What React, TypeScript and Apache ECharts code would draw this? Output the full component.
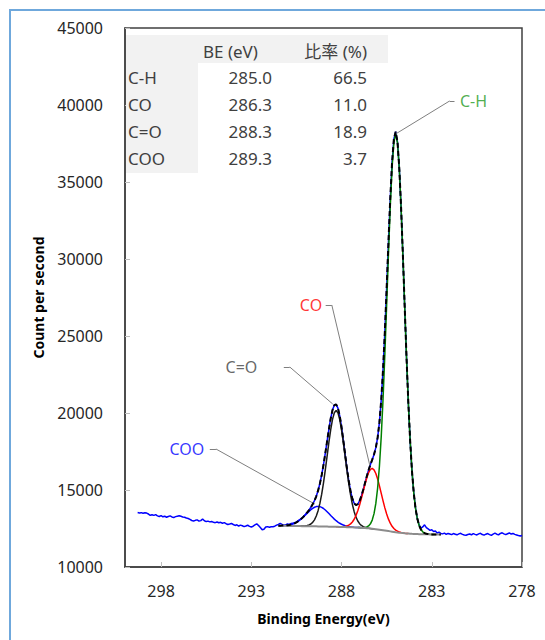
import React, { useEffect, useRef } from "react";
import * as echarts from "echarts";

// ---------- axes ----------
const xTicks = [298, 293, 288, 283, 278];
const xMin = 278;
const xMax = 300;
const yMin = 10000;
const yMax = 45000;
const yStep = 5000;

// ---------- raw spectrum (0.1 eV steps from 299.3 down to 278.0) ----------
const rawStartEV = 299.3;
const rawCounts = [
  13540, 13510, 13530, 13490, 13520, 13500, 13440, 13360, 13390, 13350,
  13400, 13320, 13280, 13340, 13260, 13300, 13230, 13280, 13320, 13250,
  13210, 13270, 13300, 13330, 13290, 13250, 13230, 13180, 13150, 13090,
  13020, 12990, 13030, 13060, 12980, 13010, 13120, 13000, 12950, 12980,
  12930, 12960, 12900, 12880, 12920, 12870, 12900, 12840, 12880, 12810,
  12760, 12790, 12830, 12760, 12700, 12740, 12660, 12720, 12680, 12620,
  12660, 12710, 12640, 12600, 12650, 12730, 12800, 12690, 12560, 12420,
  12450, 12600, 12620, 12580, 12610, 12620, 12650, 12720,
  12760, 12830, 12770, 12700, 12740, 12800, 12760, 12820, 12850, 12880,
  12930, 13010, 13090, 13180, 13300, 13420, 13560, 13700, 13880, 14080,
  14310, 14600, 14970, 15420, 15980, 16640, 17390, 18180, 18960, 19660,
  20200, 20520, 20560, 20320, 19810, 19090, 18220, 17300, 16400, 15590,
  14930, 14440, 14140, 14020, 14080, 14290, 14610, 15020, 15460, 15900,
  16300, 16650, 16970, 17310, 17750, 18400, 19410, 20860, 22820, 25290,
  28130, 31120, 33940, 36270, 37790, 38260, 37610, 35900, 33340, 30220,
  26890, 23630, 20700, 18240, 16290, 14840, 13820, 13140, 12720, 12520,
  12600, 12740, 12560, 12470, 12380, 12420, 12300, 12340, 12210, 12260,
  12180,
  12150, 12200, 12120, 12180, 12140, 12100, 12170, 12130, 12090, 12150,
  12190, 12120, 12080, 12060, 12110, 12140, 12090, 12170, 12120, 12080,
  12150, 12190, 12110, 12070, 12130, 12170, 12100, 12060, 12140, 12200,
  12130, 12090, 12180, 12220, 12150, 12100, 12160, 12210, 12140, 12180,
  12120, 12080, 12040, 12010, 12050,
];

// ---------- fit (0.1 eV steps from 291.5 down to 282.5) ----------
const fitStartEV = 291.5;
const fitStepEV = 0.1;
const baselineCounts = [
  12680, 12678, 12676, 12674, 12672, 12670, 12668, 12666, 12664, 12662,
  12660, 12658, 12656, 12654, 12652, 12650, 12648, 12646, 12644, 12642,
  12640, 12638, 12636, 12634, 12632, 12630, 12627, 12624, 12621, 12618,
  12615, 12612, 12609, 12606, 12603, 12600, 12596, 12592, 12588, 12584,
  12580, 12575, 12570, 12565, 12560, 12555, 12547, 12538, 12529, 12520,
  12510, 12497, 12484, 12470, 12455, 12440, 12422, 12404, 12386, 12368,
  12350, 12332, 12314, 12296, 12278, 12260, 12245, 12230, 12216, 12203,
  12190, 12180, 12171, 12162, 12153, 12145, 12141, 12137, 12133, 12129,
  12125, 12123, 12121, 12119, 12117, 12115, 12114, 12113, 12112, 12111,
  12110,
];

// peak heights above the baseline
const cooStartEV = 291.5;
const cooNet = [
  4, 7, 11, 18, 28, 43, 63, 91, 128, 176, 237, 311, 398, 498, 610, 728, 849,
  967, 1076, 1169, 1240, 1285, 1300, 1285, 1240, 1169, 1076, 967, 849, 728,
  610, 498, 398, 311, 237, 176, 128, 91, 63, 43, 28, 18, 11, 7, 4, 2, 1,
];
const carbonylStartEV = 290.4;
const carbonylNet = [
  1, 3, 6, 11, 24, 45, 84, 149, 257, 424, 671, 1022, 1494, 2099, 2834, 3675,
  4579, 5482, 6307, 6970, 7401, 7550, 7401, 6970, 6307, 5482, 4579, 3675,
  2834, 2099, 1494, 1022, 671, 424, 257, 149, 84, 45, 24, 11, 6, 3, 1,
];
const coStartEV = 288.3;
const coNet = [
  1, 3, 6, 12, 23, 44, 78, 133, 220, 348, 530, 776, 1090, 1471, 1908, 2377,
  2846, 3274, 3619, 3842, 3920, 3842, 3619, 3274, 2846, 2377, 1908, 1471,
  1090, 776, 530, 348, 220, 133, 78, 44, 23, 12, 6, 3, 1,
];
const chStartEV = 287.1;
const chNet = [
  1, 3, 7, 17, 37, 79, 159, 305, 564, 993, 1671, 2690, 4137, 6077, 8530,
  11450, 14690, 18010, 21100, 23630, 25290, 25870, 25290, 23630, 21100, 18010,
  14690, 11450, 8530, 6077, 4137, 2690, 1671, 993, 564, 305, 159, 79, 37, 17,
  7, 3, 1,
];

// ---------- table ----------
const tableHeaders = ["BE (eV)", "比率 (%)"];
const tableNames = ["C-H", "CO", "C=O", "COO"];
const tableBE = ["285.0", "286.3", "288.3", "289.3"];
const tableRatio = ["66.5", "11.0", "18.9", "3.7"];

// ---------- annotation labels ----------
const annotNames = ["C-H", "CO", "C=O", "COO"];
const annotPeaks = [
  [285.0, 38120],
  [286.44, 16624],
  [288.49, 20585],
  [289.49, 14091],
];

const FONT = "'Noto Sans', 'Noto Sans CJK JP', sans-serif";

const ev = (start: number, j: number) =>
  Math.round((start - j * fitStepEV) * 10) / 10;
const fitIndex = (e: number) => Math.round((fitStartEV - e) / fitStepEV);

function component(start: number, net: number[]) {
  return net.map((v, j) => {
    const e = ev(start, j);
    return [e, baselineCounts[fitIndex(e)] + v];
  });
}

export default function App() {
  const ref = useRef<HTMLDivElement>(null);

  useEffect(() => {
    if (!ref.current) return;
    const chart = echarts.init(ref.current, undefined, { renderer: "svg" });

    const comps: [number, number[]][] = [
      [cooStartEV, cooNet],
      [carbonylStartEV, carbonylNet],
      [coStartEV, coNet],
      [chStartEV, chNet],
    ];
    const envelope = baselineCounts.map((b, i) => {
      const e = ev(fitStartEV, i);
      let s = b;
      for (const [st, net] of comps) {
        const j = Math.round((st - e) / fitStepEV);
        if (j >= 0 && j < net.length) s += net[j];
      }
      return [e, s];
    });
    const raw = rawCounts.map((c, i) => [ev(rawStartEV, i), c]);
    const base = baselineCounts.map((b, i) => [ev(fitStartEV, i), b]);

    // label layout (positions only)
    const annotStyle = [
      { color: "#1f9a1f", end: [281.74, 40262], elbow: [282.01, 40262], pos: "right", dist: 5 },
      { color: "#ff0000", end: [288.88, 27014], elbow: [288.54, 27014], pos: "left", dist: 3 },
      { color: "#404040", end: [291.2, 22988], elbow: [290.87, 22988], pos: "left", dist: 26 },
      { color: "#0000ff", end: [295.3, 17663], elbow: [294.96, 17663], pos: "left", dist: 5 },
    ];

    const lineCommon = (color: string, width = 1.5) => ({
      type: "line" as const,
      showSymbol: false,
      symbol: "none",
      silent: true,
      lineStyle: { color, width },
    });

    const tableGraphics: any[] = [
      { type: "rect", shape: { x: 126, y: 35, width: 262, height: 28 }, style: { fill: "#f2f2f2" }, z: 1 },
      { type: "rect", shape: { x: 126, y: 63, width: 72, height: 110 }, style: { fill: "#f2f2f2" }, z: 1 },
    ];
    const tText = (text: string, x: number, y: number, align: string) => ({
      type: "text",
      z: 2,
      style: {
        text,
        x,
        y,
        align,
        textAlign: align,
        verticalAlign: "middle",
        textVerticalAlign: "middle",
        fill: "#404040",
        font: `17px ${FONT}`,
      },
    });
    tableGraphics.push(tText(tableHeaders[0], 203, 51, "left"));
    tableGraphics.push(tText(tableHeaders[1], 367, 51, "right"));
    const rowY = [77, 104, 131, 158];
    tableNames.forEach((n, i) => {
      tableGraphics.push(tText(n, 128, rowY[i], "left"));
      tableGraphics.push(tText(tableBE[i], 272, rowY[i], "right"));
      tableGraphics.push(tText(tableRatio[i], 367, rowY[i], "right"));
    });

    chart.setOption({
      animation: false,
      backgroundColor: "#ffffff",
      textStyle: { fontFamily: FONT },
      grid: {
        left: 125,
        right: 23,
        top: 28,
        bottom: 73,
        containLabel: false,
        outerBoundsMode: "none",
        show: true,
        borderColor: "#404040",
        borderWidth: 1.5,
        backgroundColor: "transparent",
      },
      xAxis: {
        type: "value",
        min: xMin,
        max: xMax,
        inverse: true,
        name: "Binding Energy(eV)",
        nameLocation: "middle",
        nameGap: 44,
        nameTextStyle: { fontFamily: FONT, fontWeight: "bold", fontSize: 14, color: "#000" },
        axisLine: { show: true, lineStyle: { color: "#404040", width: 1.5 } },
        axisTick: {
          show: true,
          inside: true,
          length: 5,
          customValues: xTicks,
          lineStyle: { color: "#bfbfbf" },
        },
        axisLabel: {
          customValues: xTicks,
          margin: 16,
          fontFamily: FONT,
          fontSize: 16,
          color: "#262626",
        },
        splitLine: { show: false },
      },
      yAxis: {
        type: "value",
        min: yMin,
        max: yMax,
        interval: yStep,
        name: "Count per second",
        nameLocation: "middle",
        nameGap: 80,
        nameTextStyle: { fontFamily: FONT, fontWeight: "bold", fontSize: 14, color: "#000" },
        axisLine: { show: true, lineStyle: { color: "#404040", width: 1.5 } },
        axisTick: { show: true, inside: true, length: 5, lineStyle: { color: "#bfbfbf" } },
        axisLabel: {
          margin: 22,
          fontFamily: FONT,
          fontSize: 16,
          color: "#262626",
          formatter: (v: number) => String(v),
        },
        splitLine: { show: false },
      },
      graphic: [
        {
          type: "rect",
          shape: { x: 10, y: 10, width: 600, height: 700 },
          style: { fill: "none", stroke: "#6fa8dc", lineWidth: 2 },
          silent: true,
        },
        ...tableGraphics,
      ],
      series: [
        { ...lineCommon("#0000ff", 1.5), name: "raw", data: raw, z: 2 },
        { ...lineCommon("#0000ff", 1.5), name: "COO", data: component(cooStartEV, cooNet), z: 3 },
        { ...lineCommon("#1a1a1a", 1.5), name: "C=O", data: component(carbonylStartEV, carbonylNet), z: 3 },
        { ...lineCommon("#ff0000", 1.5), name: "CO", data: component(coStartEV, coNet), z: 3 },
        { ...lineCommon("#008000", 1.5), name: "C-H", data: component(chStartEV, chNet), z: 3 },
        { ...lineCommon("#8c8c8c", 2), name: "baseline", data: base, z: 4 },
        {
          ...lineCommon("#000000", 2),
          name: "envelope",
          data: envelope,
          z: 5,
          lineStyle: { color: "#000000", width: 2, type: [5, 3] },
        },
        {
          type: "scatter",
          name: "labels",
          silent: true,
          symbolSize: 1,
          itemStyle: { color: "rgba(0,0,0,0)" },
          z: 6,
          data: annotNames.map((n, i) => ({
            value: annotStyle[i].end,
            label: {
              show: true,
              formatter: n,
              position: annotStyle[i].pos,
              distance: annotStyle[i].dist,
              color: annotStyle[i].color,
              fontFamily: FONT,
              fontSize: 16,
            },
          })),
          markLine: {
            silent: true,
            symbol: ["none", "none"],
            label: { show: false },
            lineStyle: { color: "#7f7f7f", width: 1, type: "solid" },
            data: annotNames.flatMap((_, i) => [
              [{ coord: annotStyle[i].end }, { coord: annotStyle[i].elbow }],
              [{ coord: annotStyle[i].elbow }, { coord: annotPeaks[i] }],
            ]),
          },
        },
      ],
    });

    return () => chart.dispose();
  }, []);

  return (
    <div
      ref={ref}
      style={{ position: "fixed", left: 0, top: 0, width: 545, height: 640, background: "#fff" }}
    />
  );
}
